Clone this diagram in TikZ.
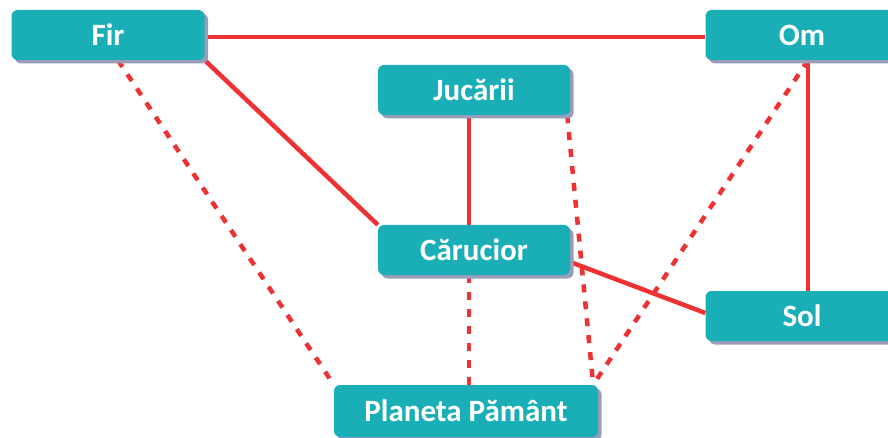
\documentclass[tikz,border=0pt]{standalone}
\usepackage{fontspec}
\setmainfont{Carlito}
\usetikzlibrary{backgrounds,shadows}
\definecolor{boxteal}{HTML}{1AAFB7}
\definecolor{boxshade}{HTML}{9A9DBA}
\definecolor{linkred}{HTML}{EE3234}

\begin{document}
\begin{tikzpicture}[x=1pt, y=-1pt,
  every node/.style = {font=\fontsize{31}{37}\selectfont\bfseries},
  topic/.style  = {rectangle, rounded corners=6pt, fill=boxteal,
                   text=white, minimum width=193pt, minimum height=50pt,
                   inner sep=0pt,
                   drop shadow={shadow xshift=3.5pt, shadow yshift=-3.5pt,
                                fill=boxshade, opacity=1}},
  link/.style   = {draw=linkred, line width=4.5pt},
  weak/.style   = {draw=linkred, line width=4.5pt, dash pattern=on 8pt off 9pt},
]
  \useasboundingbox (0,0) rectangle (888,438);

  \node[topic] (fir) at (108,35) {Fir};
  \node[topic] (om) at (802,35) {Om};
  \node[topic, minimum width=192pt] (jucarii) at (474,90) {Jucării};
  \node[topic, minimum width=192pt] (carucior) at (474,250) {Cărucior};
  \node[topic] (sol) at (802,316) {Sol};
  \node[topic, minimum width=264pt, minimum height=52pt] (planeta)
    at (466,411) {Planeta Pământ};

  \begin{scope}[on background layer]
    % solid links
    \draw[link] (fir.east |- 0,37) -- (om.west |- 0,37);
    \draw[link] (fir.south east) -- (carucior.north west);
    \draw[link] ([xshift=-5pt]jucarii.south) -- ([xshift=-5pt]carucior.north);
    \draw[link] ([xshift=6pt]om.south) -- ([xshift=6pt]sol.north);
    \draw[link] ([yshift=-12pt]carucior.east) -- ([yshift=3pt]sol.west);

    % dotted links towards Planeta Pamant
    \draw[weak] ([xshift=10pt]fir.south) -- (planeta.north west);
    \draw[weak] ([xshift=-5pt]carucior.south) -- ([xshift=3pt]planeta.north);
    \draw[weak] ([xshift=-3pt]jucarii.south east) -- ([xshift=-5pt]planeta.north east);
    \draw[weak] ([xshift=6pt]om.south) -- ([xshift=-5pt]planeta.north east);
  \end{scope}
\end{tikzpicture}
\end{document}
